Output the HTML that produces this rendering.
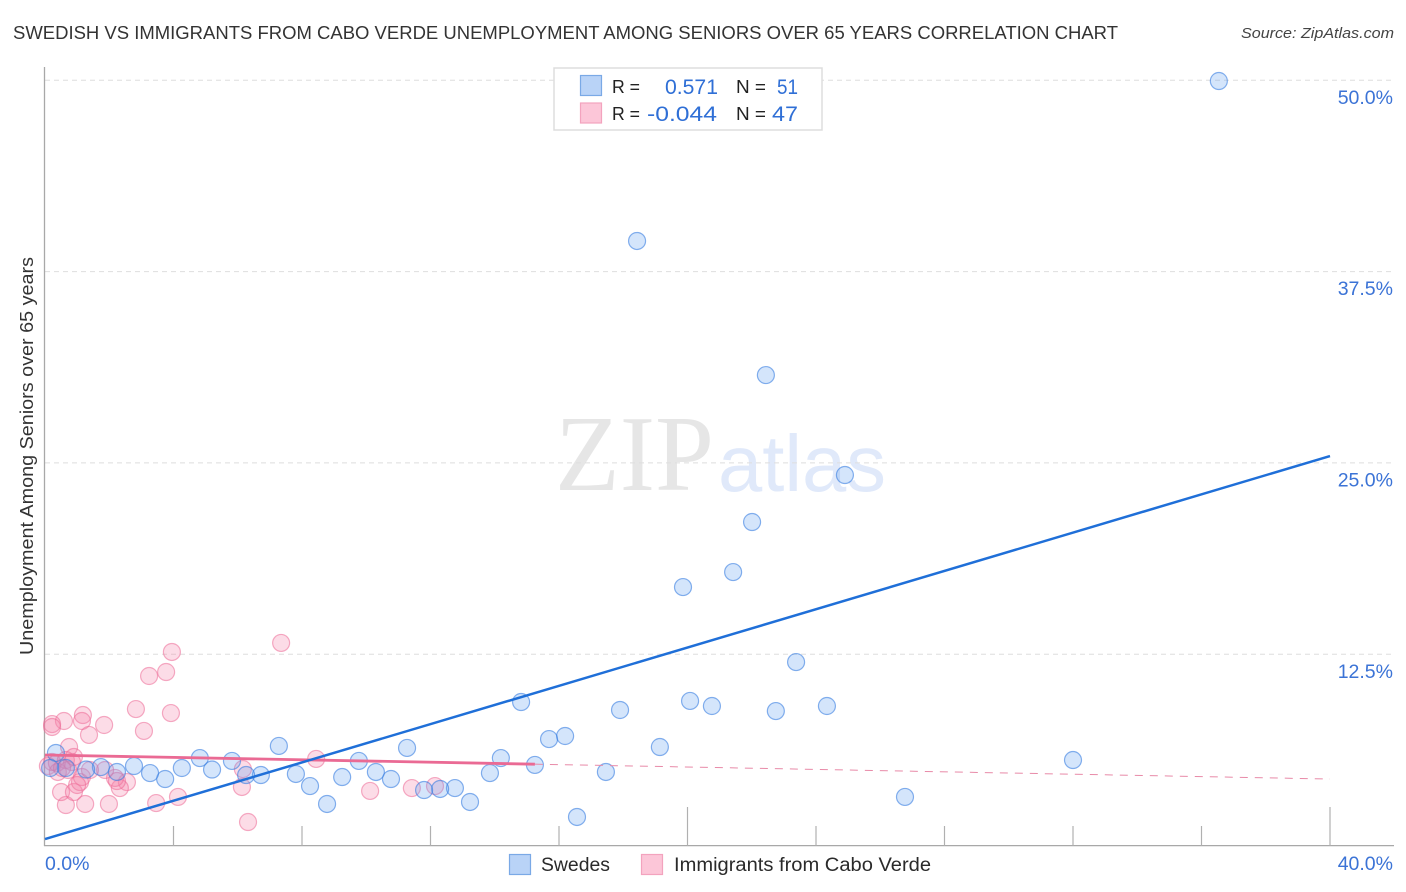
<!DOCTYPE html>
<html lang="en">
<head>
<meta charset="utf-8">
<title>Swedish vs Immigrants from Cabo Verde Unemployment Correlation Chart</title>
<style>
html,body{margin:0;padding:0;background:#fff;width:1406px;height:892px;overflow:hidden}
svg{display:block;font-family:"Liberation Sans",sans-serif}
</style>
</head>
<body>
<svg id="chart" xmlns="http://www.w3.org/2000/svg" width="1406" height="892" viewBox="0 0 1406 892">
  <rect x="0" y="0" width="1406" height="892" fill="#ffffff"/>
  <text x="555" y="490" font-family="'Liberation Serif',serif" font-size="108" fill="#e6e6e6" textLength="159" lengthAdjust="spacingAndGlyphs">ZIP</text>
  <text x="718" y="491" font-size="80" fill="#e0e9fa" textLength="168" lengthAdjust="spacingAndGlyphs">atlas</text>
  <g id="grid"></g>
  <g id="axes"></g>
  <g id="pink-points"></g>
  <g id="blue-points"></g>
  <g id="trends"></g>
  <g id="labels"></g>

  <text x="13" y="39" font-size="18.5" fill="#333333" textLength="1105" lengthAdjust="spacingAndGlyphs">SWEDISH VS IMMIGRANTS FROM CABO VERDE UNEMPLOYMENT AMONG SENIORS OVER 65 YEARS CORRELATION CHART</text>
  <text x="1241" y="38" font-size="15" font-style="italic" fill="#444444" textLength="153" lengthAdjust="spacingAndGlyphs">Source: ZipAtlas.com</text>
  <text transform="translate(33 655) rotate(-90)" x="0" y="0" font-size="18" fill="#333333" textLength="398" lengthAdjust="spacingAndGlyphs">Unemployment Among Seniors over 65 years</text>

  <g>
    <rect x="554" y="68" width="268" height="62" fill="#ffffff" stroke="#dddddd" stroke-width="1.5"/>
    <rect x="580.5" y="75.5" width="21" height="20" fill="#b9d3f7" stroke="#7aa9e6" stroke-width="1.2"/>
    <rect x="580.5" y="103" width="21" height="20" fill="#fcc6d8" stroke="#f3a3be" stroke-width="1.2"/>
    <text x="612" y="93" font-size="18" fill="#222222" textLength="28" lengthAdjust="spacingAndGlyphs">R =</text>
    <text x="665" y="94" font-size="21.5" fill="#2f6fd6" textLength="53" lengthAdjust="spacingAndGlyphs">0.571</text>
    <text x="736" y="93" font-size="18" fill="#222222" textLength="30" lengthAdjust="spacingAndGlyphs">N =</text>
    <text x="777" y="94" font-size="21.5" fill="#2f6fd6" textLength="21" lengthAdjust="spacingAndGlyphs">51</text>
    <text x="612" y="120" font-size="18" fill="#222222" textLength="28" lengthAdjust="spacingAndGlyphs">R =</text>
    <text x="647" y="121" font-size="21.5" fill="#2f6fd6" textLength="70" lengthAdjust="spacingAndGlyphs">-0.044</text>
    <text x="736" y="120" font-size="18" fill="#222222" textLength="30" lengthAdjust="spacingAndGlyphs">N =</text>
    <text x="772" y="121" font-size="21.5" fill="#2f6fd6" textLength="26" lengthAdjust="spacingAndGlyphs">47</text>
  </g>

  <g>
    <rect x="509.5" y="854.5" width="21" height="20" fill="#b9d3f7" stroke="#7aa9e6" stroke-width="1.2"/>
    <text x="541" y="871" font-size="19" fill="#2a2a2a" textLength="69" lengthAdjust="spacingAndGlyphs">Swedes</text>
    <rect x="641.5" y="854.5" width="21" height="20" fill="#fcc6d8" stroke="#f3a3be" stroke-width="1.2"/>
    <text x="674" y="871" font-size="19" fill="#2a2a2a" textLength="257" lengthAdjust="spacingAndGlyphs">Immigrants from Cabo Verde</text>
  </g>
</svg>
<script>
var xTickValues = [0, 4, 8, 12, 16, 20, 24, 28, 32, 36, 40];
var majorXTicks = [20, 40];
var yGridValues = [12.5, 25, 37.5, 50];
var yTickLabels = ["12.5%", "25.0%", "37.5%", "50.0%"];
var xEndValues = [0, 40];
var xEndLabels = ["0.0%", "40.0%"];

var swedesX = [36.54,18.43,22.44,24.90,22.01,21.42,19.86,23.38,24.34,22.75,20.76,20.08,17.90,14.82,15.69,16.19,19.14,11.27,7.28,32.00,26.77,17.46,16.56,15.25,14.19,13.85,13.23,12.76,12.30,11.80,10.77,10.30,9.77,9.25,8.78,8.25,7.81,6.72,6.26,5.82,5.20,4.82,4.26,3.74,3.27,2.77,2.24,1.74,1.28,0.65,0.34,0.16];
var swedesY = [49.95,39.50,30.74,24.21,21.14,17.87,16.89,11.99,9.12,8.79,9.12,9.45,8.86,9.38,6.96,7.16,6.44,6.38,6.51,5.59,3.18,4.81,1.87,5.27,5.72,4.74,2.85,3.76,3.70,3.63,4.35,4.81,5.53,4.48,2.72,3.89,4.68,4.61,4.61,5.53,4.97,5.72,5.07,4.35,4.74,5.20,4.81,5.13,4.97,5.07,6.05,5.07];

var caboVerdeX = [3.95,3.77,3.24,7.35,2.83,3.92,3.08,1.18,1.15,0.59,0.22,0.22,1.84,1.37,0.75,8.44,6.16,6.13,6.32,4.14,3.46,1.99,1.25,0.65,0.50,0.90,2.55,2.33,2.18,2.24,1.09,10.12,11.42,12.14,1.87,0.22,0.09,0.37,0.40,0.65,0.84,0.72,1.15,1.40,1.00,0.90,0.53];
var caboVerdeY = [12.65,11.34,11.08,13.24,8.92,8.66,7.49,8.53,8.14,8.14,7.94,7.75,7.88,7.23,6.44,5.66,5.00,3.83,1.54,3.18,2.78,2.72,2.72,2.65,3.50,3.50,4.15,3.76,4.42,4.22,4.15,3.57,3.76,3.89,4.94,5.46,5.20,5.40,4.81,5.59,5.46,4.94,4.48,4.94,3.96,5.79,5.07];

var swedesTrendX = [0, 40];
var swedesTrendY = [0.43, 25.45];
var caboTrendSolidX = [0, 15.25];
var caboTrendSolidY = [5.92, 5.32];
var caboTrendDashedX = [15.25, 40];
var caboTrendDashedY = [5.32, 4.35];

function xScale(v) { return 45 + v * 32.125; }
function yScale(v) { return 845.6 - v * 15.307; }

var NS = "http://www.w3.org/2000/svg";
function make(tag, parent, attrs) {
  var el = document.createElementNS(NS, tag);
  for (var k in attrs) { el.setAttribute(k, attrs[k]); }
  parent.appendChild(el);
  return el;
}

var grid = document.getElementById("grid");
yGridValues.forEach(function (v) {
  var line = make("line", grid, { x1: 45, x2: 1394, y1: yScale(v), y2: yScale(v), stroke: "#dedede", "stroke-width": 1, "stroke-dasharray": "5 4" });
  
  
});

var axes = document.getElementById("axes");
var yAxisLine = make("line", axes, { x1: 44.5, x2: 44.5, y1: 67, y2: 846, stroke: "#a8a8a8", "stroke-width": 1.3 });


var xAxisLine = make("line", axes, { x1: 44, x2: 1394, y1: 845.6, y2: 845.6, stroke: "#a8a8a8", "stroke-width": 1.3 });


xTickValues.forEach(function (v) {
  if (v === 0) { return; }
  var top = majorXTicks.indexOf(v) >= 0 ? 807 : 826;
  var tick = make("line", axes, { x1: xScale(v), x2: xScale(v), y1: top, y2: 845.6, stroke: "#b0b0b0", "stroke-width": 1.2 });
  
  
});

var pinkGroup = document.getElementById("pink-points");
caboVerdeX.forEach(function (v, i) {
  var pt = make("circle", pinkGroup, { cx: xScale(v), cy: yScale(caboVerdeY[i]), r: 8.5, fill: "rgba(246,130,168,0.28)", stroke: "rgba(236,105,150,0.55)", "stroke-width": 1.2 });
  
  
});

var blueGroup = document.getElementById("blue-points");
swedesX.forEach(function (v, i) {
  var pt = make("circle", blueGroup, { cx: xScale(v), cy: yScale(swedesY[i]), r: 8.5, fill: "rgba(100,160,240,0.28)", stroke: "rgba(55,125,225,0.6)", "stroke-width": 1.2 });
  
  
});

var trends = document.getElementById("trends");
var dashed = make("line", trends, { x1: xScale(caboTrendDashedX[0]), x2: xScale(caboTrendDashedX[1]), y1: yScale(caboTrendDashedY[0]), y2: yScale(caboTrendDashedY[1]), stroke: "#e88aa8", "stroke-width": 1, "stroke-dasharray": "8 7" });


var solidPink = make("line", trends, { x1: xScale(caboTrendSolidX[0]), x2: xScale(caboTrendSolidX[1]), y1: yScale(caboTrendSolidY[0]), y2: yScale(caboTrendSolidY[1]), stroke: "#ea6a94", "stroke-width": 2.8 });


var blueTrend = make("line", trends, { x1: xScale(swedesTrendX[0]), x2: xScale(swedesTrendX[1]), y1: yScale(swedesTrendY[0]), y2: yScale(swedesTrendY[1]), stroke: "#1f6fd8", "stroke-width": 2.5 });



var labels = document.getElementById("labels");
yGridValues.forEach(function (v, i) {
  var t = make("text", labels, { x: 1393, y: yScale(v) + 23.5, "font-size": 19.5, fill: "#3b73d6", "text-anchor": "end" });
  
  
  t.textContent = yTickLabels[i];
});
xEndValues.forEach(function (v, i) {
  var t = make("text", labels, { x: i === 0 ? xScale(v) : 1393, y: 870, "font-size": 19.5, fill: "#3b73d6", "text-anchor": i === 0 ? "start" : "end" });
  
  
  t.textContent = xEndLabels[i];
});
</script>
</body>
</html>
